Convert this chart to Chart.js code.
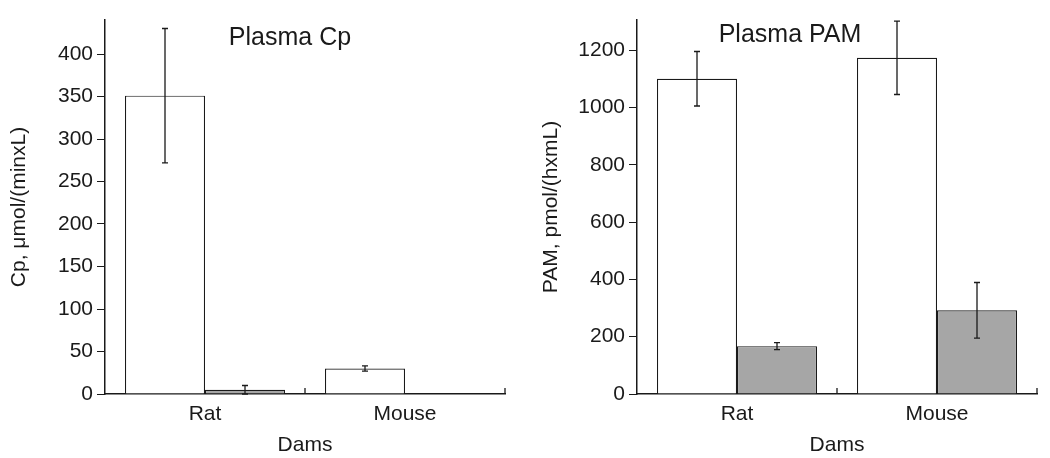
<!DOCTYPE html>
<html>
<head>
<meta charset="utf-8">
<script src="https://cdn.jsdelivr.net/npm/chart.js"></script>
<style>
  body { margin: 0; background: #fff; }
  .wrap { display: flex; width: 1050px; height: 458px; }
  .wrap div { width: 525px; height: 458px; }
</style>
</head>
<body>
<div class="wrap">
  <div><canvas id="cpChart" width="525" height="458"></canvas></div>
  <div><canvas id="pamChart" width="525" height="458"></canvas></div>
</div>
<script>
// data
const dams = ['Rat', 'Mouse'];

const cpWhite = [351, 30];
const cpWhiteErr = [79, 3];
const cpGrey = [5, 0.5];
const cpGreyErr = [5, 0];

const pamWhite = [1100, 1173];
const pamWhiteErr = [95, 128];
const pamGrey = [167, 292];
const pamGreyErr = [12, 97];

const cpTicks = { max: 440, step: 50 };
const pamTicks = { max: 1305, step: 200 };

const ink = '#1a1a1a';
const fontFamily = '"Liberation Sans", Arial, sans-serif';

// error bars, category boundary ticks and the in-plot title
const extras = {
  id: 'extras',
  afterDatasetsDraw(chart, args, opts) {
    const ctx = chart.ctx;
    const x = chart.scales.x, y = chart.scales.y;
    ctx.save();
    ctx.strokeStyle = ink;
    ctx.lineWidth = 1.3;
    chart.data.datasets.forEach((ds, i) => {
      chart.getDatasetMeta(i).data.forEach((bar, j) => {
        const v = ds.data[j], e = ds.errors[j];
        if (!e) return;
        const top = y.getPixelForValue(v + e);
        const bot = y.getPixelForValue(Math.max(0, v - e));
        ctx.beginPath();
        ctx.moveTo(bar.x, top); ctx.lineTo(bar.x, bot);
        ctx.moveTo(bar.x - 3, top); ctx.lineTo(bar.x + 3, top);
        ctx.moveTo(bar.x - 3, bot); ctx.lineTo(bar.x + 3, bot);
        ctx.stroke();
      });
    });
    const n = chart.data.labels.length;
    const w = (x.right - x.left) / n;
    ctx.lineWidth = 1.3;
    for (let k = 1; k <= n; k++) {
      const px = x.left + k * w;
      ctx.beginPath();
      ctx.moveTo(px, y.bottom);
      ctx.lineTo(px, y.bottom - 6);
      ctx.stroke();
    }
    ctx.fillStyle = ink;
    ctx.font = '25px ' + fontFamily;
    ctx.textAlign = 'center';
    ctx.textBaseline = 'middle';
    ctx.fillText(opts.text, opts.cx, opts.cy);
    ctx.restore();
  }
};

function makeChart(id, white, whiteErr, grey, greyErr, ticks, cfg) {
  return new Chart(document.getElementById(id), {
    type: 'bar',
    data: {
      labels: dams,
      datasets: [{
        data: white,
        errors: whiteErr,
        backgroundColor: '#ffffff',
        borderColor: ink,
        borderWidth: 1.2
      }, {
        data: grey,
        errors: greyErr,
        backgroundColor: '#a6a6a6',
        borderColor: ink,
        borderWidth: 1.2
      }]
    },
    options: {
      responsive: false,
      animation: false,
      categoryPercentage: 0.8,
      barPercentage: 1.0,
      layout: { padding: { top: 20, right: cfg.right, left: 0, bottom: 0 } },
      plugins: {
        legend: { display: false },
        tooltip: { enabled: false },
        extras: { text: cfg.title, cx: cfg.titleX, cy: cfg.titleY }
      },
      scales: {
        x: {
          grid: { display: false, drawTicks: false },
          border: { display: true, color: ink, width: 1.5 },
          ticks: { color: ink, padding: 8, font: { size: 21, family: fontFamily } },
          title: {
            display: true, text: 'Dams', color: ink,
            font: { size: 21, family: fontFamily },
            padding: { top: 0, bottom: 0 }
          },
          afterFit: s => { s.height = 64; }
        },
        y: {
          min: 0,
          max: ticks.max,
          grid: { drawOnChartArea: false, drawTicks: true, tickLength: 8, color: ink, lineWidth: 1 },
          border: { display: true, color: ink, width: 1.5 },
          ticks: {
            stepSize: ticks.step, color: ink, padding: 4,
            font: { size: 21, family: fontFamily },
            callback: v => String(v)
          },
          afterBuildTicks: s => { s.ticks = s.ticks.filter(t => t.value % ticks.step === 0); },
          title: {
            display: true, text: cfg.yTitle, color: ink,
            font: { size: 21, family: fontFamily },
            padding: { top: cfg.yTitlePad, bottom: 0 }
          },
          afterFit: s => { s.width = cfg.left; }
        }
      }
    },
    plugins: [extras]
  });
}

makeChart('cpChart', cpWhite, cpWhiteErr, cpGrey, cpGreyErr, cpTicks, {
  title: 'Plasma Cp', titleX: 290, titleY: 38,
  yTitle: 'Cp, μmol/(minxL)', yTitlePad: 7, left: 105, right: 20
});

makeChart('pamChart', pamWhite, pamWhiteErr, pamGrey, pamGreyErr, pamTicks, {
  title: 'Plasma PAM', titleX: 265, titleY: 35,
  yTitle: 'PAM, pmol/(hxmL)', yTitlePad: 14, left: 112, right: 13
});
</script>
</body>
</html>
